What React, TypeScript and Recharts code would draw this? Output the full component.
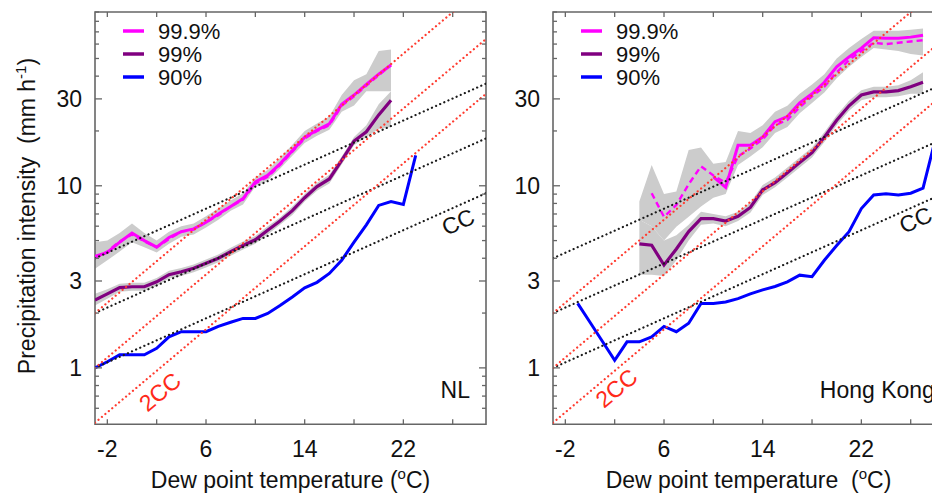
import React from 'react';
import {
  ComposedChart, Line, Area, XAxis, YAxis, ReferenceLine, ReferenceArea, ReferenceDot,
} from 'recharts';

// axis setup
const X_MIN = -3;
const X_MAX = 28.7;
const Y_MIN = 0.49;
const Y_MAX = 90;
const xTicks = [-2, 2, 6, 10, 14, 18, 22, 26];
const xLabelled = [-2, 6, 14, 22];
const yTicks = [0.6, 0.7, 0.8, 0.9, 1, 2, 3, 4, 5, 6, 7, 8, 9, 10, 20, 30, 40, 50, 60, 70, 80, 90];
const yLabelled = [1, 3, 10, 30];

// scaling reference lines (start at X_MIN, end at X_MAX)
const ccStart = [1, 2, 4];
const ccEnd = [9.1, 18.2, 36.4];
const twoCcStart = [0.5, 1, 2];
const twoCcEnd = [32, 64, 128];

// Netherlands
const nlTemps = [-3, -2, -1, 0, 1, 2, 3, 4, 5, 6, 7, 8, 9, 10, 11, 12, 13, 14, 15, 16, 17, 18, 19, 20, 21, 22, 23];
const nl90 = [1.0, 1.08, 1.18, 1.18, 1.18, 1.28, 1.48, 1.58, 1.58, 1.58, 1.69, 1.78, 1.87, 1.87, 1.99, 2.2, 2.45, 2.75, 2.95, 3.3, 3.9, 4.9, 6.1, 7.8, 8.2, 7.9, 14.7];
const nl99 = [2.36, 2.55, 2.76, 2.79, 2.79, 2.97, 3.25, 3.37, 3.52, 3.75, 4.0, 4.35, 4.7, 5.05, 5.7, 6.4, 7.3, 8.6, 9.9, 10.9, 13.8, 17.6, 19.8, 24.5, 29.5];
const nl99Lo = [2.2, 2.4, 2.62, 2.65, 2.65, 2.82, 3.1, 3.2, 3.35, 3.56, 3.8, 4.13, 4.47, 4.8, 5.4, 6.1, 6.9, 8.2, 9.4, 10.3, 13.1, 16.7, 18.5, 20.5, 21];
const nl99Hi = [2.55, 2.7, 2.9, 2.93, 2.93, 3.12, 3.42, 3.54, 3.7, 3.94, 4.2, 4.57, 4.94, 5.3, 6.0, 6.7, 7.7, 9.0, 10.4, 11.5, 14.5, 18.5, 21.5, 28, 33];
const nl999 = [4.1, 4.3, 4.9, 5.5, 5.0, 4.6, 5.2, 5.6, 5.8, 6.3, 7.0, 7.7, 8.5, 10.5, 11.4, 13.2, 15.6, 18.5, 20.2, 21.9, 28.0, 31.5, 36, 41, 46];
const nl999Dash = [4.0, 4.35, 4.95, 5.4, 4.95, 4.6, 5.1, 5.6, 5.75, 6.3, 6.9, 7.7, 8.4, 10.3, 11.2, 13.0, 15.4, 18.2, 20.0, 21.5, 27.5, 31, 35.5, 40.5, 46];
const nl999Lo = [3.5, 3.9, 4.35, 4.9, 4.6, 4.3, 4.8, 5.25, 5.4, 5.9, 6.5, 7.3, 7.9, 9.9, 10.7, 12.4, 14.6, 17.2, 18.8, 20.3, 25.5, 27.6, 33, 33, 33];
const nl999Hi = [4.9, 5.0, 5.5, 6.2, 5.5, 5.0, 5.6, 6.0, 6.2, 6.8, 7.5, 8.3, 9.1, 11.1, 12.2, 14.2, 16.8, 20.0, 22.0, 24.0, 31.5, 38, 41, 55, 56];

// Hong Kong
const hkTemps = [-1, 0, 1, 2, 3, 4, 5, 6, 7, 8, 9, 10, 11, 12, 13, 14, 15, 16, 17, 18, 19, 20, 21, 22, 23, 24, 25, 26, 27, 28];
const hk90 = [2.26, 1.78, 1.4, 1.1, 1.39, 1.39, 1.48, 1.69, 1.58, 1.76, 2.26, 2.26, 2.3, 2.4, 2.55, 2.68, 2.8, 2.97, 3.23, 3.17, 3.9, 4.7, 5.6, 7.5, 8.9, 9.05, 8.9, 9.1, 9.7, 18];
const hkTemps99 = [4, 5, 6, 7, 8, 9, 10, 11, 12, 13, 14, 15, 16, 17, 18, 19, 20, 21, 22, 23, 24, 25, 26, 27];
const hk99 = [4.8, 4.72, 3.67, 4.5, 5.6, 6.6, 6.6, 6.4, 6.8, 7.6, 9.5, 10.4, 11.8, 13.4, 15.2, 18.5, 22.9, 27.5, 31.5, 32.8, 32.8, 33.3, 35, 37];
const hk99Lo = [3.25, 3.25, 3.2, 3.9, 5.0, 6.1, 6.2, 6.0, 6.4, 7.1, 8.9, 9.8, 11.1, 12.6, 14.3, 17.4, 21.5, 25.8, 29.5, 30.6, 30.6, 31, 32, 32];
const hk99Hi = [6.5, 6.0, 5.0, 5.35, 6.1, 7.2, 7.0, 6.8, 7.2, 8.1, 10.1, 11.1, 12.6, 14.3, 16.2, 19.7, 24.4, 29.3, 33.5, 35, 35, 35.6, 38, 42];
const hkTemps999 = [4, 5, 6, 7, 8, 9, 10, 11, 12, 13, 14, 15, 16, 17, 18, 19, 20, 21, 22, 23, 24, 25, 26, 27];
const hk999 = [null, null, null, null, null, null, 11.2, 9.8, 16.7, 16.7, 18.5, 22.5, 24, 28.5, 32, 37, 45, 51, 57, 65, 64.5, 64.5, 65.5, 67];
const hk999Dash = [null, 9.1, 6.75, 7.85, 10.2, 12.8, 11.4, 10.4, 14.5, 16.0, 18, 21.5, 23, 27, 31, 35, 42, 49, 55, 61, 60, 61, 62, 63];
const hk999Lo = [6.5, 6.0, 5.0, 5.95, 6.75, 7.7, 8.6, 9.0, 13.0, 14.5, 16.3, 19.5, 21, 25, 28.5, 32.5, 39, 45, 51, 57, 56, 55, 53, 52];
const hk999Hi = [8.2, 13, 9.0, 9.3, 15.7, 16.2, 13.2, 13.5, 20, 19.5, 21.5, 25.5, 27.5, 32, 36, 41, 50, 57, 64, 71, 71, 71, 72, 73];

const FONT = '"Liberation Sans", Arial, Helvetica, sans-serif';
const FRAME = '#666666';
const MAGENTA = '#ff00ff';
const PURPLE = '#800080';
const BLUE = '#0000ff';
const BAND = '#cccccc';
const RED_DOT = '#ff3b2f';
const BLACK_DOT = '#1a1a1a';

const CW = 490;
const CH = 493;
const PL = 95;
const PT = 12;
const PW = 391;
const PH = 412.3;

const pts = (temps: number[], vals: (number | null)[]) =>
  temps.map((t, i) => ({ t, v: vals[i] })).filter((p) => p.v != null);
const band = (temps: number[], lo: number[], hi: number[]) =>
  temps.map((t, i) => ({ t, r: [lo[i], hi[i]] }));

const XTick = (props: any) => {
  const { x, y, payload } = props;
  const v = payload.value;
  return (
    <g>
      <line x1={x} x2={x} y1={y} y2={y - 5} stroke={FRAME} strokeWidth={1.3} />
      <line x1={x} x2={x} y1={y - PH} y2={y - PH + 5} stroke={FRAME} strokeWidth={1.3} />
      {xLabelled.includes(v) && (
        <text x={x} y={y + 25} textAnchor="middle" dominantBaseline="central" fontSize={23} fontFamily={FONT} fill="#111">
          {v}
        </text>
      )}
    </g>
  );
};

const YTick = (props: any) => {
  const { x, y, payload } = props;
  const v = payload.value;
  const lab = yLabelled.includes(v);
  const len = lab || v === 10 ? 7 : 4;
  return (
    <g>
      <line x1={x} x2={x + len} y1={y} y2={y} stroke={FRAME} strokeWidth={1.3} />
      <line x1={x + PW - len} x2={x + PW} y1={y} y2={y} stroke={FRAME} strokeWidth={1.3} />
      {lab && (
        <text x={x - 13} y={y} textAnchor="end" dominantBaseline="central" fontSize={23} fontFamily={FONT} fill="#111">
          {v}
        </text>
      )}
    </g>
  );
};

const rotText = (label: string, angle: number, color: string, anchor = 'middle') => (p: any) => (
  <text
    x={p.cx}
    y={p.cy}
    transform={`rotate(${angle}, ${p.cx}, ${p.cy})`}
    textAnchor={anchor}
    dominantBaseline="central"
    fontSize={23}
    fontFamily={FONT}
    fill={color}
  >
    {label}
  </text>
);

const legendItems = [
  { name: '99.9%', color: MAGENTA },
  { name: '99%', color: PURPLE },
  { name: '90%', color: BLUE },
];

type PanelProps = {
  left: number;
  bands: { t: number; r: number[] }[][];
  p999: { t: number; v: number | null }[];
  p999Dash: { t: number; v: number | null }[];
  p99: { t: number; v: number | null }[];
  p90: { t: number; v: number | null }[];
  place: string;
  placeAt: { x: number; y: number; anchor: string };
  ccAt: { x: number; y: number };
  twoCcAt: { x: number; y: number };
  xTitleGap: string;
  showYTitle: boolean;
};

const Panel = (props: PanelProps) => {
  const { left, bands, p999, p999Dash, p99, p90, place, placeAt, ccAt, twoCcAt, xTitleGap, showYTitle } = props;
  return (
    <div style={{ position: 'absolute', left, top: 0, width: CW, height: CH }}>
      <ComposedChart
        width={CW}
        height={CH}
        margin={{ top: PT, right: CW - PL - PW, bottom: CH - PT - PH - 40, left: PL - 60 }}
      >
        <XAxis
          dataKey="t"
          type="number"
          domain={[X_MIN, X_MAX]}
          allowDataOverflow
          ticks={xTicks}
          interval={0}
          tickSize={0}
          tickMargin={0}
          axisLine={false}
          tickLine={false}
          tick={<XTick />}
          height={40}
        />
        <YAxis
          type="number"
          scale="log"
          domain={[Y_MIN, Y_MAX]}
          allowDataOverflow
          ticks={yTicks}
          interval={0}
          tickSize={0}
          tickMargin={0}
          axisLine={false}
          tickLine={false}
          tick={<YTick />}
          width={60}
        />
        {bands.map((b, i) => (
          <Area
            key={`band${i}`}
            data={b}
            dataKey="r"
            type="linear"
            stroke="none"
            fill={BAND}
            fillOpacity={1}
            isAnimationActive={false}
            activeDot={false}
          />
        ))}
        <Line data={p90} dataKey="v" type="linear" stroke={BLUE} strokeWidth={3} dot={false} activeDot={false} isAnimationActive={false} />
        <Line data={p99} dataKey="v" type="linear" stroke={PURPLE} strokeWidth={3.2} dot={false} activeDot={false} isAnimationActive={false} />
        <Line data={p999} dataKey="v" type="linear" stroke={MAGENTA} strokeWidth={3} dot={false} activeDot={false} isAnimationActive={false} />
        <Line data={p999Dash} dataKey="v" type="linear" stroke={MAGENTA} strokeWidth={2.4} strokeDasharray="6 4" dot={false} activeDot={false} isAnimationActive={false} />
        {ccStart.map((s, i) => (
          <ReferenceLine
            key={`cc${i}`}
            segment={[{ x: X_MIN, y: s }, { x: X_MAX, y: ccEnd[i] }]}
            ifOverflow="hidden"
            stroke={BLACK_DOT}
            strokeWidth={2.2}
            strokeDasharray="0.1 4.4"
            strokeLinecap="round"
          />
        ))}
        {twoCcStart.map((s, i) => (
          <ReferenceLine
            key={`tcc${i}`}
            segment={[{ x: X_MIN, y: s }, { x: X_MAX, y: twoCcEnd[i] }]}
            ifOverflow="hidden"
            stroke={RED_DOT}
            strokeWidth={2.2}
            strokeDasharray="0.1 4.4"
            strokeLinecap="round"
          />
        ))}
        <ReferenceArea x1={X_MIN} x2={X_MAX} y1={Y_MIN} y2={Y_MAX} fill="none" stroke={FRAME} strokeWidth={1.6} ifOverflow="visible" />
        <ReferenceDot x={ccAt.x} y={ccAt.y} r={0} ifOverflow="visible" shape={rotText('CC', -24, '#111')} />
        <ReferenceDot x={twoCcAt.x} y={twoCcAt.y} r={0} ifOverflow="visible" shape={rotText('2CC', -40, '#ff2a1a')} />
        <ReferenceDot x={placeAt.x} y={placeAt.y} r={0} ifOverflow="visible" shape={rotText(place, 0, '#111', placeAt.anchor)} />
      </ComposedChart>
      <svg width={CW} height={CH} style={{ position: 'absolute', left: 0, top: 0, pointerEvents: 'none' }}>
        {legendItems.map((it, i) => (
          <g key={it.name}>
            <line x1={PL + 28} x2={PL + 49} y1={31 + i * 23} y2={31 + i * 23} stroke={it.color} strokeWidth={3.5} />
            <text x={PL + 63} y={31 + i * 23} dominantBaseline="central" fontSize={22} fontFamily={FONT} fill="#111">
              {it.name}
            </text>
          </g>
        ))}
        {showYTitle && (
          <text
            transform="rotate(-90, 35, 216)"
            x={35}
            y={216}
            textAnchor="middle"
            fontSize={23}
            fontFamily={FONT}
            fill="#111"
            style={{ whiteSpace: 'pre' }}
          >
            {'Precipitation intensity  (mm h'}
            <tspan dy={-9} fontSize={15}>-1</tspan>
            <tspan dy={9}>)</tspan>
          </text>
        )}
        <text x={PL + PW / 2} y={488} textAnchor="middle" fontSize={23} fontFamily={FONT} fill="#111" style={{ whiteSpace: 'pre' }}>
          {`Dew point temperature${xTitleGap}(`}
          <tspan dy={-9} fontSize={15}>o</tspan>
          <tspan dy={9}>C)</tspan>
        </text>
      </svg>
    </div>
  );
};

export default function App() {
  return (
    <div style={{ position: 'absolute', left: 0, top: 0, width: 932, height: 493, overflow: 'hidden', background: '#fff' }}>
      <Panel
        left={0}
        bands={[band(nlTemps.slice(0, 25), nl999Lo, nl999Hi), band(nlTemps.slice(0, 25), nl99Lo, nl99Hi)]}
        p999={pts(nlTemps.slice(0, 25), nl999)}
        p999Dash={pts(nlTemps.slice(0, 25), nl999Dash)}
        p99={pts(nlTemps.slice(0, 25), nl99)}
        p90={pts(nlTemps, nl90)}
        place="NL"
        placeAt={{ x: 27.4, y: 0.754, anchor: 'end' }}
        ccAt={{ x: 26.44, y: 6.34 }}
        twoCcAt={{ x: 2.27, y: 0.738 }}
        xTitleGap=" "
        showYTitle
      />
      <Panel
        left={458.3}
        bands={[band(hkTemps999, hk999Lo, hk999Hi), band(hkTemps99, hk99Lo, hk99Hi)]}
        p999={pts(hkTemps999, hk999)}
        p999Dash={pts(hkTemps999, hk999Dash)}
        p99={pts(hkTemps99, hk99)}
        p90={pts(hkTemps, hk90)}
        place="Hong Kong"
        placeAt={{ x: 18.63, y: 0.754, anchor: 'start' }}
        ccAt={{ x: 26.4, y: 6.5 }}
        twoCcAt={{ x: 2.14, y: 0.774 }}
        xTitleGap="  "
        showYTitle={false}
      />
    </div>
  );
}
